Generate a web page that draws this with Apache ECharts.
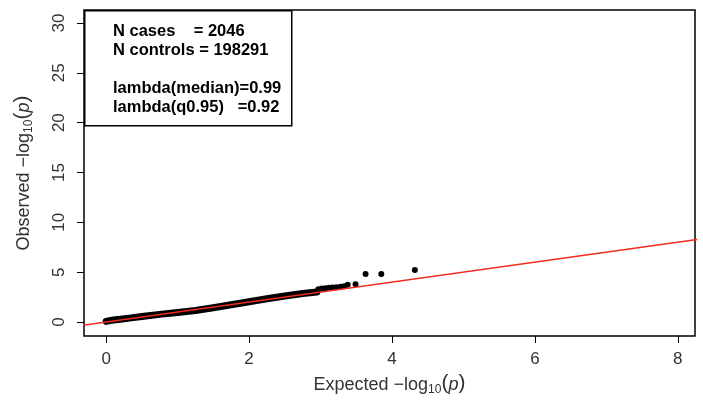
<!DOCTYPE html>
<html>
<head>
<meta charset="utf-8">
<script src="https://cdn.jsdelivr.net/npm/echarts@6/dist/echarts.min.js"></script>
<style>
html,body{margin:0;padding:0;background:#fff;}
#c{width:703px;height:401px;}
</style>
</head>
<body>
<div id="c"></div>
<script>
// Tick labels
var xTicks = [0, 2, 4, 6, 8];
var yTicks = [0, 5, 10, 15, 20, 25, 30];

// Dense band of the QQ plot (expected, observed), read along the cloud
var bandExpected = [0.0, 0.05, 0.1, 0.2, 0.35, 0.5, 0.75, 1.0, 1.25, 1.5, 1.75, 2.0, 2.25, 2.5, 2.75, 2.95];
var bandObserved = [0.06, 0.14, 0.2, 0.28, 0.42, 0.56, 0.77, 0.96, 1.16, 1.44, 1.74, 2.04, 2.34, 2.62, 2.87, 3.02];

// Sparse tail points (expected, observed)
var tailExpected = [2.97, 3.02, 3.07, 3.12, 3.17, 3.22, 3.28, 3.33, 3.38, 3.49, 3.63, 3.85, 4.32];
var tailObserved = [3.3, 3.36, 3.4, 3.44, 3.47, 3.5, 3.55, 3.6, 3.74, 3.8, 4.82, 4.82, 5.21];

// Reference line y = x
var refLine = [-1, 9];

// Legend text
var legendLines = ['N cases    = 2046', 'N controls = 198291', '', 'lambda(median)=0.99', 'lambda(q0.95)   =0.92'];

function zip(a, b) { return a.map(function (v, i) { return [v, b[i]]; }); }

var chart = echarts.init(document.getElementById('c'), null, {renderer: 'canvas'});
var font = 'Liberation Sans, Arial, Helvetica, sans-serif';
var txtCol = '#333';
var rich = {
  a: {fontSize: 18, fontFamily: font, color: txtCol, verticalAlign: 'bottom'},
  s: {fontSize: 12, fontFamily: font, color: txtCol, verticalAlign: 'bottom', padding: [0, 0, -2, 0]},
  p: {fontSize: 21, fontFamily: font, color: txtCol, verticalAlign: 'bottom'},
  i: {fontSize: 18, fontFamily: font, color: txtCol, fontStyle: 'italic', verticalAlign: 'bottom'}
};

chart.setOption({
  animation: false,
  backgroundColor: '#fff',
  textStyle: {fontFamily: font},
  grid: {left: 84, right: 8, top: 10, bottom: 63, show: true, borderColor: '#000', borderWidth: 1.5, backgroundColor: 'transparent'},
  xAxis: {
    type: 'value', min: -0.31, max: 8.24,
    splitLine: {show: false},
    axisLine: {show: false, onZero: false},
    axisTick: {show: true, length: 7, lineStyle: {color: '#000', width: 1}, customValues: xTicks},
    axisLabel: {customValues: xTicks, color: txtCol, fontSize: 17, margin: 15, fontFamily: font},
    name: '{a|Expected \u2212log}{s|10}{p|(}{i|p}{p|)}',
    nameLocation: 'middle', nameGap: 37,
    nameTextStyle: {color: txtCol, rich: rich}
  },
  yAxis: {
    type: 'value', min: -1.4, max: 31.3,
    splitLine: {show: false},
    axisLine: {show: false, onZero: false},
    axisTick: {show: true, length: 7, lineStyle: {color: '#000', width: 1}, customValues: yTicks},
    axisLabel: {customValues: yTicks, color: txtCol, fontSize: 17, margin: 16, rotate: 90, fontFamily: font},
    name: '{a|Observed \u2212log}{s|10}{p|(}{i|p}{p|)}',
    nameLocation: 'middle', nameGap: 51, nameRotate: 90,
    nameTextStyle: {color: txtCol, rich: rich}
  },
  series: [
    {
      type: 'line', data: zip(bandExpected, bandObserved), showSymbol: false, symbol: 'none',
      lineStyle: {color: '#000', width: 7, cap: 'round', join: 'round'}, z: 2, silent: true
    },
    {
      type: 'scatter', data: zip(tailExpected, tailObserved), symbol: 'circle', symbolSize: 6,
      itemStyle: {color: '#000', opacity: 1}, z: 3, silent: true
    },
    {
      type: 'line', data: zip(refLine, refLine), showSymbol: false, symbol: 'none', clip: true,
      lineStyle: {color: '#f2291c', width: 1.5}, z: 4, silent: true
    }
  ],
  graphic: [
    {type: 'rect', left: 84, top: 10, z: 10, shape: {width: 207, height: 115},
     style: {fill: '#fff', stroke: '#000', lineWidth: 1.5}},
    {type: 'text', left: 113, top: 22, z: 11,
     style: {text: legendLines.join('\n'), font: 'bold 16.5px ' + font, fill: '#000', lineHeight: 19}}
  ]
});
</script>
</body>
</html>
